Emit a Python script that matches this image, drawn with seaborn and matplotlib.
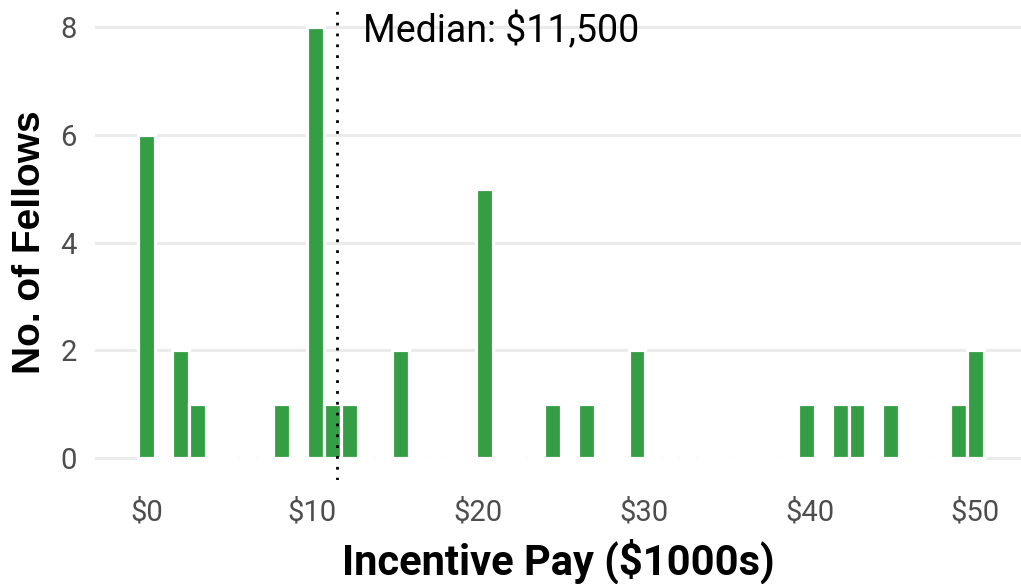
import numpy as np
import matplotlib
matplotlib.use("Agg")
import matplotlib.pyplot as plt
import seaborn as sns

sns.set_theme(style="white")
plt.rcParams['font.family'] = ['Roboto', 'DejaVu Sans']

# incentive pay per fellow, in $1000s
pay = [0, 0, 0, 0, 0, 0,
       2, 2, 3, 8,
       10, 10, 10, 10, 10, 10, 10, 10,
       11, 12, 15, 15,
       20, 20, 20, 20, 20,
       24, 27, 30, 30,
       40, 42, 43, 45, 49, 50, 50]
nbins = 50
xticks = [0, 10, 20, 30, 40, 50]
xtick_labels = ["$0", "$10", "$20", "$30", "$40", "$50"]
yticks = [0, 2, 4, 6, 8]

bar_color = "#339E43"
med = np.median(pay)

# ggplot-style bins: first and last bin centred on min and max
lo, hi = min(pay), max(pay)
w = (hi - lo) / (nbins - 1)
edges = np.linspace(lo - w / 2, hi + w / 2, nbins + 1)

fig = plt.figure(figsize=(10.21, 5.84), dpi=100)
ax = fig.add_axes([0.093, 0.178, 0.907, 0.8134])

sns.histplot(x=pay, bins=edges, color=bar_color, alpha=1,
             edgecolor="white", linewidth=2.3, ax=ax)

ax.axvline(med, color="black", lw=2, linestyle=(0, (1, 2.9)), zorder=5)
ax.text(med + 1.55, 7.92, f"Median: ${med * 1000:,.0f}", fontsize=27,
        ha="left", va="center", color="black")

ax.set_xlim(-3.1, 52.75)
ax.set_ylim(-0.4, 8.4)
ax.set_xticks(xticks)
ax.set_xticklabels(xtick_labels)
ax.set_yticks(yticks)
ax.tick_params(axis="both", length=0, labelsize=21, labelcolor="#4D4D4D", pad=13)

ax.set_axisbelow(True)
ax.grid(axis="y", color="#EBEBEB", lw=2.2)
ax.grid(axis="x", visible=False)
sns.despine(ax=ax, left=True, bottom=True)

ax.set_xlabel("Incentive Pay ($1000s)", fontsize=30, fontweight="bold", color="black")
ax.set_ylabel("No. of Fellows", fontsize=28, fontweight="bold", color="black",
              family=["Liberation Sans", "DejaVu Sans"])
ax.xaxis.set_label_coords(0.5, -0.122)
ax.yaxis.set_label_coords(-0.051, 0.5)

fig.savefig("out.png", dpi=100)
